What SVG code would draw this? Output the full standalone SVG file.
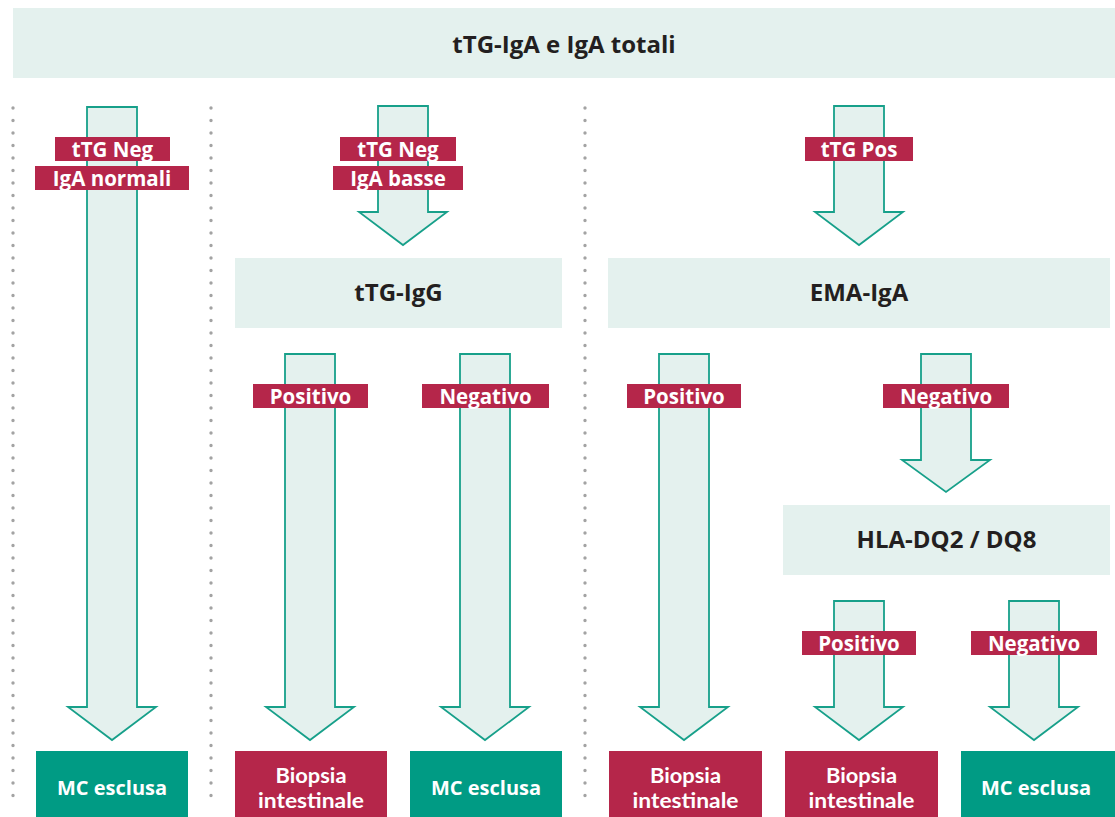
<svg xmlns="http://www.w3.org/2000/svg" width="1115" height="817" viewBox="0 0 1115 817">
<style>
.box{fill:#e4f1ee}
.t{font-family:"Open Sans","Noto Sans","Liberation Sans",sans-serif;font-weight:700}
.t2{font-family:Lato,"Liberation Sans",sans-serif;font-weight:700}
.nt{fill:#231f20;font-size:24px;text-anchor:middle}
.arr{fill:#e4f1ee;stroke:#17a08a;stroke-width:1.8;stroke-linejoin:miter}
.lab{fill:#b5264a}
.lt{fill:#ffffff;font-size:20.5px;text-anchor:middle}
.res{font-size:20px;fill:#ffffff;text-anchor:middle}
.res2{font-size:20.5px;fill:#ffffff;text-anchor:middle}
.green{fill:#009b84}
.red{fill:#b5264a}
.dot{stroke:#a3a3a3;stroke-width:3.4;stroke-linecap:round;stroke-dasharray:0 12.5;fill:none}
</style>
<g id="separators">
<line class="dot" x1="13" y1="108" x2="13" y2="808"/>
<line class="dot" x1="211" y1="108" x2="211" y2="808"/>
<line class="dot" x1="585" y1="108" x2="585" y2="808"/>
</g>
<g id="n-top"><rect class="box" x="13" y="8" width="1102" height="70"/><text class="t nt" x="564" y="53">tTG-IgA e IgA totali</text></g>
<g id="n-ttgigg"><rect class="box" x="235" y="258" width="327" height="70"/><text class="t nt" x="398.5" y="301">tTG-IgG</text></g>
<g id="n-ema"><rect class="box" x="608" y="258" width="502" height="70"/><text class="t nt" x="859" y="301">EMA-IgA</text></g>
<g id="n-hla"><rect class="box" x="783" y="505" width="327" height="70"/><text class="t nt" x="946.5" y="548">HLA-DQ2 / DQ8</text></g>
<g id="connectors">
<polygon class="arr" points="87,107 137,107 137,707 156,707 112,740 68,707 87,707"/>
<polygon class="arr" points="378,106 428,106 428,212 447,212 403,245 359,212 378,212"/>
<polygon class="arr" points="834,106 884,106 884,212 903,212 859,245 815,212 834,212"/>
<polygon class="arr" points="285,354 335,354 335,707 354,707 310,740 266,707 285,707"/>
<polygon class="arr" points="460,354 510,354 510,707 529,707 485,740 441,707 460,707"/>
<polygon class="arr" points="659,354 709,354 709,707 728,707 684,740 640,707 659,707"/>
<polygon class="arr" points="921,354 971,354 971,460 990,460 946,492 902,460 921,460"/>
<polygon class="arr" points="834,601 884,601 884,707 903,707 859,740 815,707 834,707"/>
<polygon class="arr" points="1009,601 1059,601 1059,707 1078,707 1034,740 990,707 1009,707"/>
</g>
<g id="connector-labels">
<rect class="lab" x="55" y="137" width="115" height="24"/><text class="t lt" x="112.5" y="156.5">tTG Neg</text>
<rect class="lab" x="35" y="166" width="154" height="24"/><text class="t lt" x="112" y="185.5">IgA normali</text>
<rect class="lab" x="340" y="137" width="116" height="24"/><text class="t lt" x="398" y="156.5">tTG Neg</text>
<rect class="lab" x="333" y="166" width="130" height="24"/><text class="t lt" x="398" y="185.5">IgA basse</text>
<rect class="lab" x="805" y="137" width="108" height="24"/><text class="t lt" x="859" y="156.5">tTG Pos</text>
<rect class="lab" x="253" y="384" width="115" height="24"/><text class="t lt" x="310.5" y="403.5">Positivo</text>
<rect class="lab" x="422" y="384" width="127" height="24"/><text class="t lt" x="485.5" y="403.5">Negativo</text>
<rect class="lab" x="627" y="384" width="114" height="24"/><text class="t lt" x="684" y="403.5">Positivo</text>
<rect class="lab" x="883" y="384" width="126" height="24"/><text class="t lt" x="946" y="403.5">Negativo</text>
<rect class="lab" x="802" y="631" width="114" height="24"/><text class="t lt" x="859" y="650.5">Positivo</text>
<rect class="lab" x="971" y="631" width="126" height="24"/><text class="t lt" x="1034" y="650.5">Negativo</text>
</g>
<g id="r-mc1"><rect class="green" x="36" y="751" width="152" height="66"/><text class="t res" x="112" y="795">MC esclusa</text></g>
<g id="r-bio1"><rect class="red" x="235" y="751" width="152" height="66"/><text class="t2 res2" x="311" y="782.5" textLength="71" lengthAdjust="spacingAndGlyphs">Biopsia</text><text class="t2 res2" x="311" y="807.5" textLength="106" lengthAdjust="spacingAndGlyphs">intestinale</text></g>
<g id="r-mc2"><rect class="green" x="410" y="751" width="152" height="66"/><text class="t res" x="486" y="795">MC esclusa</text></g>
<g id="r-bio2"><rect class="red" x="609" y="751" width="153" height="66"/><text class="t2 res2" x="685.5" y="782.5" textLength="71" lengthAdjust="spacingAndGlyphs">Biopsia</text><text class="t2 res2" x="685.5" y="807.5" textLength="106" lengthAdjust="spacingAndGlyphs">intestinale</text></g>
<g id="r-bio3"><rect class="red" x="785" y="751" width="153" height="66"/><text class="t2 res2" x="861.5" y="782.5" textLength="71" lengthAdjust="spacingAndGlyphs">Biopsia</text><text class="t2 res2" x="861.5" y="807.5" textLength="106" lengthAdjust="spacingAndGlyphs">intestinale</text></g>
<g id="r-mc3"><rect class="green" x="961" y="751" width="154" height="66"/><text class="t res" x="1036" y="795">MC esclusa</text></g>
</svg>
